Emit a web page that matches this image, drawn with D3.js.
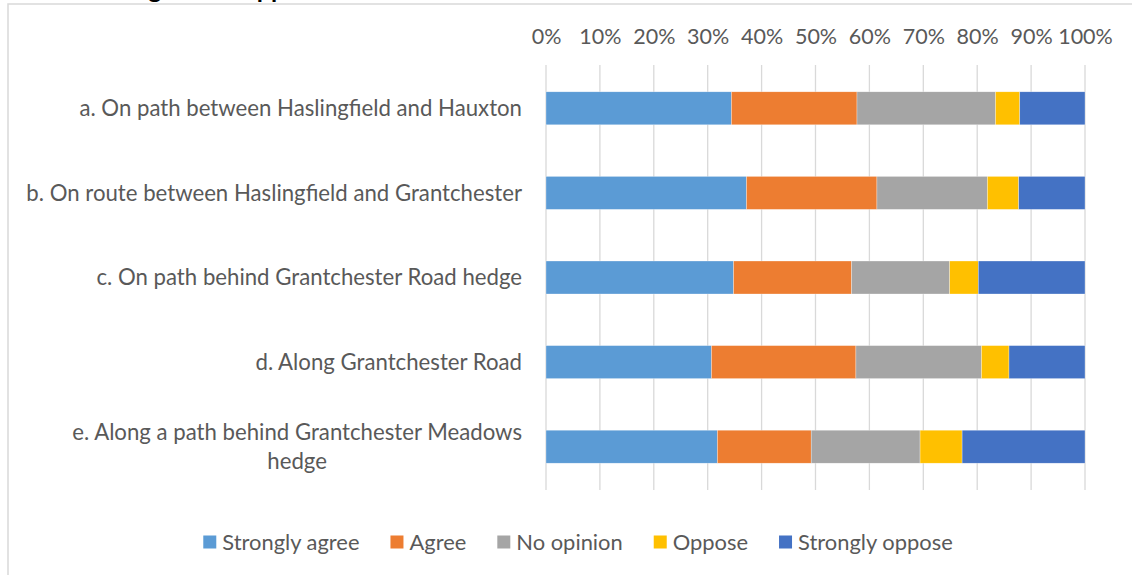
<!DOCTYPE html>
<html><head><meta charset="utf-8">
<script src="https://cdn.jsdelivr.net/npm/d3@7"></script>
<style>
html,body{margin:0;padding:0;background:#fff;}
svg{display:block;}
text{font-family:Lato,"Open Sans",sans-serif;}
</style></head>
<body><svg id="chart" width="1132" height="575"></svg>
<script>
const categories = [
  "a. On path between Haslingfield and Hauxton",
  "b. On route between Haslingfield and Grantchester",
  "c. On path behind Grantchester Road hedge",
  "d. Along Grantchester Road",
  "e. Along a path behind Grantchester Meadows\nhedge"
];
const seriesNames = ["Strongly agree","Agree","No opinion","Oppose","Strongly oppose"];
const stronglyAgree  = [34.4, 37.2, 34.8, 30.7, 31.8];
const agree          = [23.3, 24.2, 21.9, 26.8, 17.4];
const noOpinion      = [25.7, 20.5, 18.2, 23.3, 20.2];
const oppose         = [ 4.5,  5.8,  5.3,  5.1,  7.8];
const stronglyOppose = [12.1, 12.3, 19.8, 14.1, 22.8];
const tickValues = [0,0.1,0.2,0.3,0.4,0.5,0.6,0.7,0.8,0.9,1];
const colors = ["#5B9BD5","#ED7D31","#A5A5A5","#FFC000","#4472C4"];
const titleText = "Degree of support";

const seriesValues = [stronglyAgree, agree, noOpinion, oppose, stronglyOppose];
const rows = categories.map((c,i)=>{
  const o = {cat:c};
  seriesNames.forEach((s,j)=>{ o[s] = seriesValues[j][i]; });
  return o;
});
const stack = d3.stack().keys(seriesNames).offset(d3.stackOffsetExpand);
const layers = stack(rows);

const svg = d3.select("#chart");
const textColor = "#595959";
const fsCat = 22.2, fsTick = 21.5, fsLeg = 21.9;

// outer border (chart area frame, partly outside view)
svg.append("rect").attr("x",8).attr("y",4).attr("width",1200).attr("height",700)
  .attr("fill","none").attr("stroke","#d9d9d9").attr("stroke-width",1.5);

// clipped heading above the frame
svg.append("text").attr("x",116).attr("y",-2).attr("font-weight","bold")
  .attr("font-size",25).attr("fill","#000").text(titleText);

const x = d3.scaleLinear().domain([0,1]).range([546,1085]);
const y = d3.scaleBand().domain(categories).range([66,489]).paddingInner(0.61).paddingOuter(0.305);

// gridlines
svg.append("g").selectAll("line").data(tickValues).join("line")
  .attr("x1",d=>x(d)).attr("x2",d=>x(d)).attr("y1",65).attr("y2",490)
  .attr("stroke","#d9d9d9").attr("stroke-width",1.3);

// top axis labels
const axis = d3.axisTop(x).tickValues(tickValues).tickFormat(d3.format(".0%")).tickSize(0).tickPadding(0);
const ag = svg.append("g").attr("transform","translate(0,44)").call(axis);
ag.select(".domain").remove();
ag.selectAll("text").attr("font-size",fsTick).attr("fill",textColor)
  .attr("font-family","Lato,'Open Sans',sans-serif");

// bars
svg.append("g").selectAll("g").data(layers).join("g")
  .attr("fill",(d,i)=>colors[i])
  .selectAll("rect").data(d=>d).join("rect")
  .attr("x",d=>x(d[0])).attr("width",d=>x(d[1])-x(d[0]))
  .attr("y",d=>y(d.data.cat)).attr("height",y.bandwidth())
  .attr("stroke","#fff").attr("stroke-width",0.5).attr("stroke-opacity",0.6);

// category labels
const labelRight = 522;
const lineH = 29;
categories.forEach(c=>{
  const lines = c.split("\n");
  const cy = y(c) + y.bandwidth()/2;
  const g = svg.append("g");
  const ts = lines.map((l,k)=> g.append("text")
    .attr("y", cy + (k - (lines.length-1)/2)*lineH)
    .attr("dy","0.35em").attr("font-size",fsCat).attr("fill",textColor).text(l));
  if(lines.length===1){
    ts[0].attr("x",labelRight).attr("text-anchor","end");
  } else {
    const w = d3.max(ts, t=>t.node().getComputedTextLength());
    ts.forEach(t=>t.attr("x",labelRight - w/2).attr("text-anchor","middle"));
  }
});

// legend
const lg = svg.append("g");
let cx = 0;
const sq = 13, gapT = 6, gapItem = 31;
seriesNames.forEach((s,i)=>{
  const it = lg.append("g").attr("transform",`translate(${cx},0)`);
  it.append("rect").attr("x",0).attr("y",-sq/2).attr("width",sq).attr("height",sq).attr("fill",colors[i]);
  const t = it.append("text").attr("x",sq+gapT).attr("y",0).attr("dy","0.35em")
    .attr("font-size",fsLeg).attr("fill",textColor).text(s);
  cx += sq + gapT + t.node().getComputedTextLength() + gapItem;
});
const totalW = cx - gapItem;
lg.attr("transform",`translate(${578 - totalW/2},542)`);
</script></body></html>
